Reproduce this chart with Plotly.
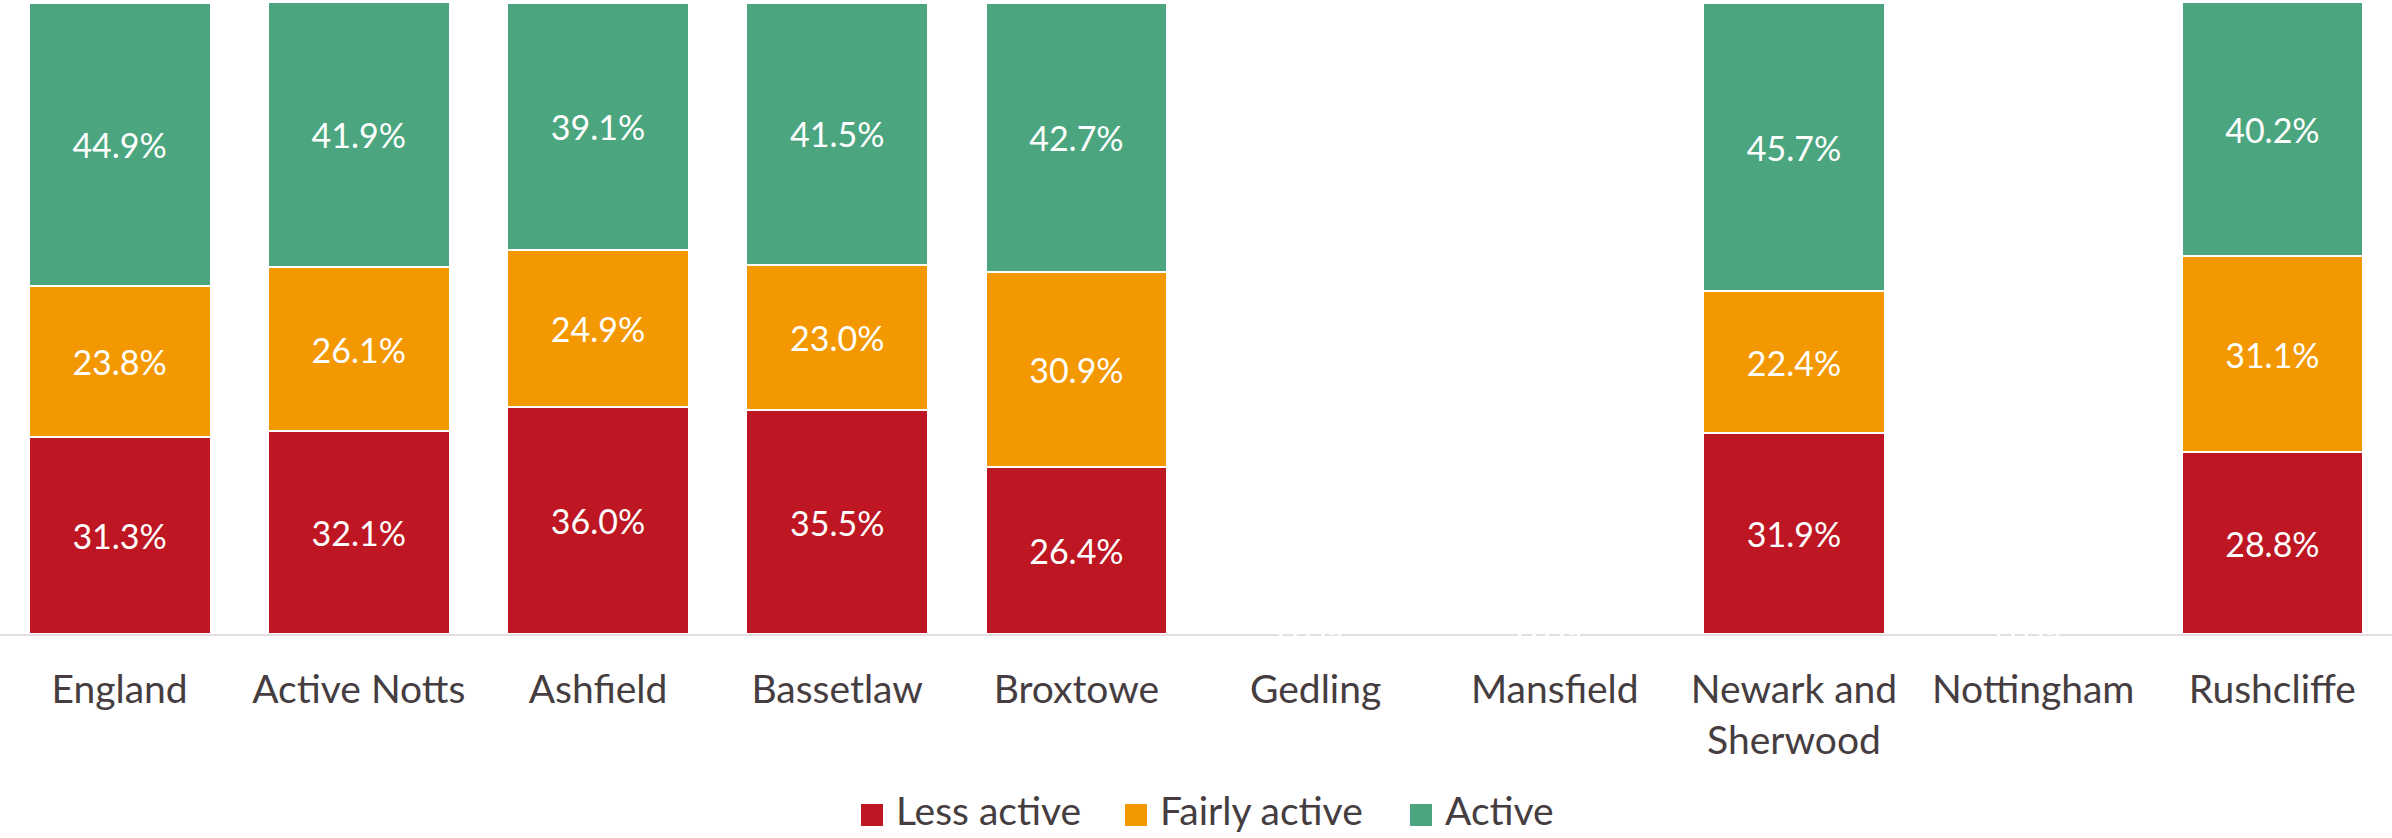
import plotly.graph_objects as go

# Activity levels by area (percent of adults)
areas = ["England", "Active Notts", "Ashfield", "Bassetlaw", "Broxtowe",
         "Gedling", "Mansfield", "Newark and<br>Sherwood", "Nottingham", "Rushcliffe"]
less_active = [31.3, 32.1, 36.0, 35.5, 26.4, 0.0, 0.0, 31.9, 0.0, 28.8]
fairly_active = [23.8, 26.1, 24.9, 23.0, 30.9, 0.0, 0.0, 22.4, 0.0, 31.1]
active = [44.9, 41.9, 39.1, 41.5, 42.7, 0.0, 0.0, 45.7, 0.0, 40.2]

series_names = ["Less active", "Fairly active", "Active"]
series_values = [less_active, fairly_active, active]
series_colors = ["#BE1622", "#F39800", "#4BA680"]

FONT = "Lato, 'Open Sans', sans-serif"
TEXT_COLOR = "#453D3F"

W, H = 2392, 838
M_TOP, M_BOTTOM = 3, 204
PLOT_H = H - M_TOP - M_BOTTOM

fig = go.Figure()
for name, vals, color in zip(series_names, series_values, series_colors):
    fig.add_trace(go.Bar(
        name=name,
        x=areas,
        y=vals,
        marker=dict(color=color, line=dict(color="white", width=2)),
        texttemplate="%{y:.1f}%",
        textposition="inside",
        insidetextanchor="middle",
        constraintext="none",
        textfont=dict(color="white", size=34, family=FONT),
        hoverinfo="skip",
        showlegend=False,
    ))

# Zero-valued areas still carry a (white) label sitting on the baseline
for i, area in enumerate(areas):
    if less_active[i] + fairly_active[i] + active[i] == 0:
        fig.add_annotation(x=area, y=0, text=f"{less_active[i]:.1f}%",
                           showarrow=False, yanchor="middle",
                           font=dict(color="white", size=34, family=FONT))


# Legend drawn below the axis: square swatch followed by the series name
def px_x(px):
    return px / W


def px_y(py):
    return (H - M_BOTTOM - py) / PLOT_H


legend_swatch_left = [861, 1125, 1410]
swatch_cy = 815
text_cy = 810
sw = 22
for left, name, color in zip(legend_swatch_left, series_names, series_colors):
    fig.add_shape(type="rect", xref="paper", yref="paper",
                  x0=px_x(left), x1=px_x(left + sw),
                  y0=px_y(swatch_cy - sw / 2), y1=px_y(swatch_cy + sw / 2),
                  fillcolor=color, line=dict(width=0))
    fig.add_annotation(xref="paper", yref="paper",
                       x=px_x(left + sw + 12), y=px_y(text_cy),
                       xanchor="left", yanchor="middle", showarrow=False,
                       borderpad=0,
                       text=name, font=dict(size=39, color=TEXT_COLOR, family=FONT))

fig.update_layout(
    barmode="stack",
    bargap=0.24,
    width=W,
    height=H,
    margin=dict(l=0, r=0, t=M_TOP, b=M_BOTTOM, autoexpand=False),
    plot_bgcolor="white",
    paper_bgcolor="white",
    font=dict(family=FONT, color=TEXT_COLOR),
    showlegend=False,
    xaxis=dict(
        range=[-0.5, 9.5],
        showline=True, linecolor="#E4DEE0", linewidth=2,
        showgrid=False, ticks="",
        automargin=False,
        ticklabelstandoff=20,
        tickfont=dict(size=39, color=TEXT_COLOR, family=FONT),
    ),
    yaxis=dict(range=[0, 100], visible=False, showgrid=False, zeroline=False),
)

fig.write_html("out.html")
